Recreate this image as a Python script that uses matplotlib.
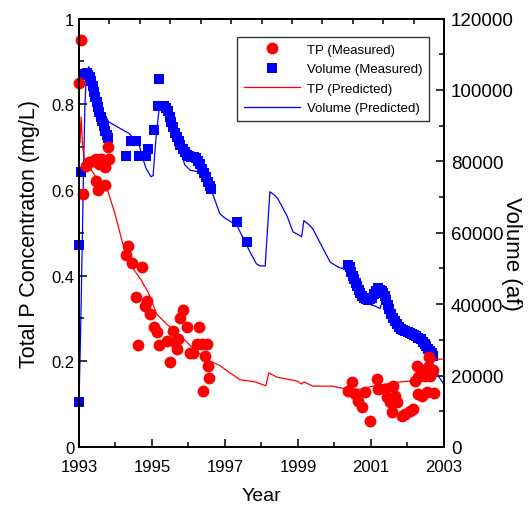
import matplotlib
matplotlib.use('Agg')
import matplotlib.pyplot as plt
from matplotlib.lines import Line2D
import numpy as np

plt.rcParams['font.family'] = ['Liberation Sans', 'DejaVu Sans']

# TP measured (year, mg/L)
tp_year = [1993.00, 1993.05, 1993.10, 1993.20, 1993.27, 1993.38, 1993.47, 1993.55, 1993.60,
           1993.70, 1993.79, 1993.82, 1993.47, 1993.52, 1993.71,
           1994.29, 1994.34, 1994.45, 1994.56, 1994.62, 1994.73, 1994.81, 1994.86, 1994.95,
           1995.05, 1995.13, 1995.20, 1995.40, 1995.50, 1995.57, 1995.63, 1995.68, 1995.72,
           1995.77, 1995.85, 1995.95, 1996.04, 1996.12, 1996.23, 1996.30, 1996.36, 1996.40,
           1996.45, 1996.50, 1996.53, 1996.57,
           2000.37, 2000.48, 2000.56, 2000.64, 2000.75, 2000.84, 2000.97, 2001.16, 2001.19,
           2001.38, 2001.44, 2001.52, 2001.58, 2001.60, 2001.66, 2001.71, 2001.85, 2001.93,
           2002.07, 2002.15, 2002.20, 2002.26, 2002.29, 2002.29, 2002.40, 2002.40, 2002.48,
           2002.53, 2002.56, 2002.62, 2002.60, 2002.70, 2002.72]
tp_meas = [0.85, 0.95, 0.59, 0.655, 0.665, 0.668, 0.672, 0.66, 0.672,
           0.653, 0.70, 0.672, 0.62, 0.60, 0.612,
           0.448, 0.47, 0.43, 0.35, 0.238, 0.42, 0.33, 0.34, 0.31,
           0.28, 0.268, 0.238, 0.247, 0.198, 0.27, 0.245, 0.229, 0.252,
           0.30, 0.32, 0.28, 0.22, 0.22, 0.24, 0.28, 0.24, 0.13,
           0.212, 0.24, 0.19, 0.16,
           0.131, 0.152, 0.124, 0.107, 0.093, 0.128, 0.061, 0.159, 0.135,
           0.135, 0.117, 0.105, 0.082, 0.142, 0.119, 0.105, 0.072, 0.077,
           0.084, 0.089, 0.154, 0.19, 0.163, 0.124, 0.119, 0.177, 0.166,
           0.128, 0.187, 0.166, 0.21, 0.18, 0.125]

# volume measured (year, af)
vol_year = [1993.01, 1993.01, 1993.06,
            1993.17, 1993.21, 1993.25, 1993.29, 1993.33, 1993.37, 1993.40, 1993.44, 1993.48,
            1993.52, 1993.56, 1993.60, 1993.64, 1993.68, 1993.72, 1993.76, 1993.80,
            1994.29, 1994.42, 1994.56, 1994.64, 1994.84, 1994.89, 1995.05, 1995.19, 1995.16,
            1995.28, 1995.33, 1995.38, 1995.43, 1995.48, 1995.53, 1995.58, 1995.63, 1995.68,
            1995.73, 1995.78, 1995.84, 1995.90, 1995.96, 1996.02, 1996.08, 1996.14, 1996.20,
            1996.26, 1996.32, 1996.38, 1996.43, 1996.48, 1996.53, 1996.58, 1996.62,
            1997.33, 1997.60,
            2000.38, 2000.42, 2000.46, 2000.50, 2000.54, 2000.58, 2000.62, 2000.66, 2000.70,
            2000.75, 2000.80, 2000.86, 2000.92, 2000.98, 2001.04, 2001.09, 2001.14, 2001.19,
            2001.24, 2001.29, 2001.34, 2001.38, 2001.42, 2001.46, 2001.50, 2001.55, 2001.60,
            2001.65, 2001.70, 2001.76, 2001.82, 2001.88, 2001.94, 2002.00, 2002.06, 2002.12,
            2002.18, 2002.24, 2002.30, 2002.36, 2002.42, 2002.47, 2002.52, 2002.57, 2002.62,
            2002.66, 2002.70]
vol_meas = [12600, 56600, 77100,
            104500, 104800, 104200, 103500, 102500, 101000, 99500, 98000, 96500,
            95200, 93800, 92500, 91200, 90000, 88500, 87300, 86500,
            81500, 85700, 85700, 81500, 81500, 83500, 88800, 103100, 95600,
            95600, 95400, 94800, 94000, 92500, 91000, 89500, 88000, 86800,
            85600, 84500, 83500, 82600, 81800, 81500, 81200, 81300, 81000,
            80200, 79200, 77800, 76800, 75500, 74200, 73000, 72300,
            63100, 57500,
            51000, 50400, 49000, 47900, 47000, 46000, 45000, 44100, 43200,
            42300, 41800, 41400, 41300, 41400, 41800, 42800, 43800, 44400,
            44000, 43700, 43000, 42300, 41200, 39800, 38600, 37300, 36200,
            35200, 34400, 33600, 33000, 32700, 32500, 32300, 32000, 31700,
            31300, 31000, 30600, 30200, 29500, 28900, 28200, 27500, 26900,
            26200, 25500]

# TP predicted
tp_pred_year = [1993.00, 1993.03, 1993.06, 1993.10, 1993.15, 1993.20, 1993.35, 1993.50, 1993.65,
                1993.80, 1994.00, 1994.18, 1994.45, 1994.70, 1994.90, 1995.13, 1995.40, 1995.70,
                1995.95, 1996.23, 1996.60, 1996.86, 1997.10, 1997.41, 1997.82, 1998.05, 1998.12,
                1998.20, 1998.42, 1998.97, 1999.10, 1999.16, 1999.41, 1999.93, 2000.34, 2000.70,
                2001.05, 2001.80, 2002.10, 2002.30, 2002.56, 2002.80, 2003.00]
tp_pred = [0.80, 0.71, 0.77, 0.70, 0.67, 0.665, 0.645, 0.625, 0.61,
           0.595, 0.54, 0.48, 0.42, 0.39, 0.36, 0.31, 0.287, 0.265,
           0.245, 0.222, 0.20, 0.19, 0.175, 0.157, 0.152, 0.145, 0.143,
           0.173, 0.163, 0.154, 0.147, 0.152, 0.142, 0.142, 0.135, 0.135,
           0.142, 0.152, 0.154, 0.165, 0.187, 0.205, 0.205]

# volume predicted
vol_pred_year = [1993.00, 1993.04, 1993.08, 1993.12, 1993.16, 1993.20, 1993.27, 1993.40, 1993.55,
                 1993.70, 1993.82, 1994.37, 1994.64, 1994.75, 1994.84, 1994.97, 1995.03, 1995.10,
                 1995.19, 1995.27, 1995.50, 1995.75, 1995.90, 1996.05, 1996.30, 1996.45, 1996.64,
                 1996.86, 1997.00, 1997.33, 1997.41, 1997.68, 1997.86, 1997.96, 1998.10, 1998.23,
                 1998.37, 1998.45, 1998.70, 1998.86, 1999.10, 1999.16, 1999.33, 1999.41, 1999.88,
                 2000.10, 2000.20, 2000.35, 2000.50, 2000.75, 2000.95, 2001.10, 2001.25, 2001.30,
                 2001.50, 2001.70, 2001.90, 2002.20, 2002.50, 2002.60, 2002.75, 2002.87, 2003.00]
vol_pred = [12600, 30000, 52000, 75000, 95000, 104000, 106500, 101000, 96000,
            93000, 91000, 87800, 85000, 80700, 78000, 75700, 76000, 85500,
            94200, 95300, 90500, 83500, 79000, 77500, 77000, 75500, 71500,
            65300, 64100, 62000, 60300, 54700, 51300, 50700, 50700, 71500,
            70400, 69500, 64700, 60300, 58900, 63400, 62000, 61000, 51800,
            50400, 50000, 51000, 47500, 42500, 40000, 39500, 38800, 40500,
            38500, 34500, 32500, 30500, 27500, 25500, 22000, 19500, 17500]

fig = plt.figure(figsize=(5.30, 5.06), dpi=100)
ax = fig.add_axes([79 / 530, 1 - 448 / 506, 365 / 530, 428.5 / 506])
ax2 = ax.twinx()

ax2.plot(vol_pred_year, vol_pred, color='#0000ff', lw=0.9)
ax2.plot(vol_year, vol_meas, 's', color='#0000ff', ms=7.5, mew=0, clip_on=False)
ax.plot(tp_pred_year, tp_pred, color='#ff0000', lw=0.9)
ax.plot(tp_year, tp_meas, 'o', color='#ff0000', ms=8.5, mew=0, clip_on=False)
ax.set_zorder(ax2.get_zorder() + 1)
ax.patch.set_visible(False)

ax.set_xlim(1993, 2003)
ax.set_ylim(0, 1)
ax2.set_ylim(0, 120000)
ax.set_xticks(np.arange(1993, 2004, 2))
ax.set_xticks(np.arange(1994, 2003, 2), minor=True)
ax.set_yticks([0, 0.2, 0.4, 0.6, 0.8, 1])
ax.set_yticklabels(['0', '0.2', '0.4', '0.6', '0.8', '1'])
ax.set_yticks(np.arange(0.1, 1, 0.2), minor=True)
ax2.set_yticks(np.arange(0, 120001, 20000))
ax2.set_yticks(np.arange(10000, 120000, 20000), minor=True)

for a in (ax, ax2):
    for s in a.spines.values():
        s.set_linewidth(1.3)
ax.tick_params(which='both', direction='in', labelsize=12, width=1.1, top=False, right=False)
ax.tick_params(which='major', length=6)
ax.tick_params(which='minor', length=3.5)
ax.tick_params(axis='x', which='both', pad=9)
ax2.tick_params(which='both', direction='in', labelsize=13.5, width=1.1, pad=5)
ax2.tick_params(which='major', length=6)
ax2.tick_params(which='minor', length=3.5)

top = ax.secondary_xaxis('top')
top.set_xticks(np.linspace(1993, 2003, 13))
top.set_xticklabels([])
top.tick_params(direction='in', length=4, width=1.1)

ax.set_xlabel('Year', fontsize=14, labelpad=9)
ax.set_ylabel('Total P Concentraton (mg/L)', fontsize=15.5, labelpad=8)
ax2.set_ylabel('Volume (af)', fontsize=16, rotation=270, va='center')
ax2.yaxis.set_label_coords(1.186, 0.453)

handles = [
    Line2D([], [], marker='o', color='#ff0000', ls='none', ms=8.5, mew=0),
    Line2D([], [], marker='s', color='#0000ff', ls='none', ms=7.5, mew=0),
    Line2D([], [], color='#ff0000', lw=0.9),
    Line2D([], [], color='#0000ff', lw=0.9),
]
labels = ['TP (Measured)', 'Volume (Measured)', 'TP (Predicted)', 'Volume (Predicted)']
leg = ax.legend(handles, labels, loc='upper right', bbox_to_anchor=(0.959, 0.957),
                borderaxespad=0, fontsize=9.5, frameon=True, fancybox=False,
                edgecolor='black', handlelength=4.3, labelspacing=0.55, borderpad=0.5,
                handletextpad=0.5)
leg.get_frame().set_linewidth(1.0)

fig.savefig('out.png', dpi=100)
